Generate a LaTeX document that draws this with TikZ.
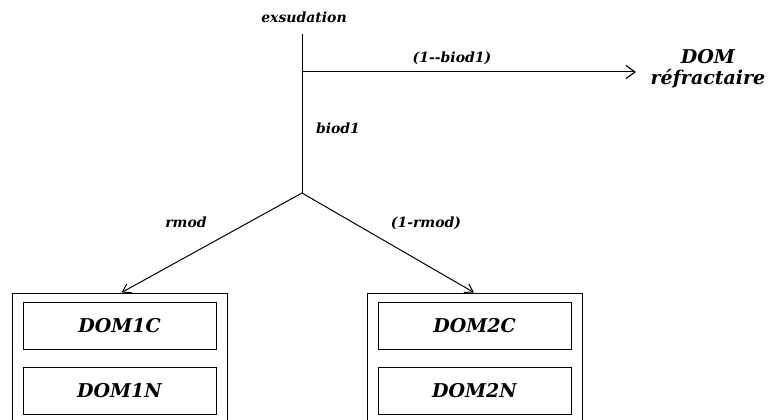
\documentclass[tikz,border=0pt]{standalone}
\usepackage{fontspec}
\setmainfont{DejaVu Serif}
\usetikzlibrary{arrows.meta}
\begin{document}
\begin{tikzpicture}[x=1pt,y=-1pt,
  lab/.style={font=\fontsize{14}{16}\selectfont\bfseries\itshape, inner sep=0pt},
  biglab/.style={font=\fontsize{19}{21}\selectfont\bfseries\itshape, inner sep=0pt},
  inbox/.style={draw, line width=0.9pt, minimum width=193pt, minimum height=47pt, inner sep=0pt, font=\fontsize{19}{21}\selectfont\bfseries\itshape},
  outbox/.style={draw, line width=0.9pt, minimum width=215pt, minimum height=150pt, inner sep=0pt},
  flow/.style={line width=1pt, -{Straight Barb[length=9pt,width=13pt,line width=1.2pt]}},
  flowd/.style={line width=1pt, -{Straight Barb[length=8pt,width=10pt,line width=1pt]}}]
\useasboundingbox (0,0) rectangle (769,420);
\clip (0,0) rectangle (769,420);
% nodes
\coordinate (top) at (302,34);
\coordinate (branch) at (302,72);
\coordinate (vertex) at (302,193);
\node[outbox] (out1) at (119.5,368) {};
\node[outbox] (out2) at (475,368) {};
\node[inbox] (dom1c) at (119.5,325.5) {DOM1C};
\node[inbox] (dom1n) at (119.5,390.5) {DOM1N};
\node[inbox] (dom2c) at (474.5,325.5) {DOM2C};
\node[inbox] (dom2n) at (474.5,390.5) {DOM2N};
\node[biglab] (dom) at (708,57) {DOM};
\node[biglab] (refr) at (708,79) {réfractaire};
\coordinate (rtip) at (636,72);
% connectors
\draw[line width=1pt] (top) -- (vertex);
\draw[flow] (branch) -- (rtip);
\draw[flowd] (vertex) -- ([xshift=2pt]out1.north);
\draw[flowd] (vertex) -- ([xshift=-1pt]out2.north);
% labels
\node[lab] (exs) at (304,17) {exsudation};
\node[lab] (l1) at (452,58) {(1-{}-biod1)};
\node[lab] (l2) at (338,128) {biod1};
\node[lab] (l3) at (186,222) {rmod};
\node[lab] (l4) at (426,223) {(1-rmod)};
\end{tikzpicture}
\end{document}
